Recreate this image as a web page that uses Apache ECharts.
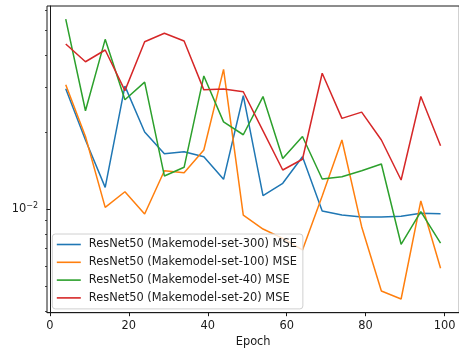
<!DOCTYPE html>
<html>
<head>
<meta charset="utf-8">
<script src="https://cdn.jsdelivr.net/npm/echarts@6/dist/echarts.min.js"></script>
<style>
  html, body { margin: 0; padding: 0; background: #fff; }
  #chart { width: 459px; height: 353px; }
</style>
</head>
<body>
<div id="chart"></div>
<script>
// Validation MSE per epoch for each training-set size
const epochs = [4, 9, 14, 19, 24, 29, 34, 39, 44, 49, 54, 59, 64, 69, 74, 79, 84, 89, 94, 99];

const mseSet300 = [0.0295, 0.0186, 0.01215, 0.0302, 0.0200, 0.01644, 0.01674, 0.0160, 0.01306, 0.0277,
                   0.01127, 0.0126, 0.0160, 0.00982, 0.00947, 0.00931, 0.00931, 0.00936, 0.00962, 0.00959];
const mseSet100 = [0.0306, 0.0192, 0.01015, 0.01168, 0.00956, 0.01411, 0.01386, 0.0170, 0.0351, 0.00947,
                   0.00835, 0.00768, 0.00692, 0.01124, 0.0186, 0.00853, 0.00478, 0.00445, 0.01075, 0.00587];
const mseSet40  = [0.0552, 0.0242, 0.0460, 0.0267, 0.0313, 0.01346, 0.01455, 0.0331, 0.0219, 0.0195,
                   0.0275, 0.01575, 0.0192, 0.0131, 0.01337, 0.01411, 0.01499, 0.00728, 0.00976, 0.00735];
const mseSet20  = [0.0441, 0.0376, 0.0418, 0.0290, 0.0450, 0.0486, 0.0453, 0.0292, 0.0294, 0.0287,
                   0.0202, 0.0142, 0.01564, 0.0339, 0.0226, 0.0239, 0.0186, 0.01298, 0.0275, 0.01767];

const seriesNames = [
  'ResNet50 (Makemodel-set-300) MSE',
  'ResNet50 (Makemodel-set-100) MSE',
  'ResNet50 (Makemodel-set-40) MSE',
  'ResNet50 (Makemodel-set-20) MSE'
];
const seriesValues = [mseSet300, mseSet100, mseSet40, mseSet20];
const seriesColors = ['#1f77b4', '#ff7f0e', '#2ca02c', '#d62728'];

const xTicks = [0, 20, 40, 60, 80, 100];
const yMajorTicks = [0.01];
const yMinorTicks = [0.004, 0.005, 0.006, 0.007, 0.008, 0.009, 0.02, 0.03, 0.04, 0.05, 0.06];

const FONT = 'DejaVu Sans';
const FONT_SIZE = 11.4;
const INK = '#1a1a1a';
const Y_MIN = 0.003934, Y_MAX = 0.06209;

const chart = echarts.init(document.getElementById('chart'), null, { renderer: 'canvas' });

const series = seriesNames.map((name, i) => ({
  name: name,
  type: 'line',
  yAxisIndex: 0,
  data: epochs.map((e, k) => [e, seriesValues[i][k]]),
  showSymbol: false,
  symbol: 'none',
  lineStyle: { width: 1.5, color: seriesColors[i] },
  itemStyle: { color: seriesColors[i] },
  animation: false
}));

chart.setOption({
  animation: false,
  backgroundColor: '#fff',
  grid: {
    left: 47, top: 6, width: 412.3, height: 306.7,
    show: true, borderColor: INK, borderWidth: 1,
    containLabel: false, outerBoundsMode: 'none'
  },
  legend: {
    orient: 'vertical',
    left: 52.3, top: 234,
    padding: [4.5, 6, 5, 4.5],
    itemGap: 5.8,
    itemWidth: 24, itemHeight: 1.6,
    icon: 'rect',
    backgroundColor: 'rgba(255,255,255,0.8)',
    borderColor: '#d0d0d0', borderWidth: 1, borderRadius: 3,
    textStyle: { fontFamily: FONT, fontSize: FONT_SIZE, color: INK, lineHeight: 12, padding: [0, 0, 0, 3] },
    data: seriesNames
  },
  xAxis: {
    type: 'value',
    min: -0.75, max: 103.75,
    name: 'Epoch', nameLocation: 'middle', nameGap: 24,
    nameTextStyle: { fontFamily: FONT, fontSize: FONT_SIZE, color: INK },
    axisLine: { show: true, onZero: false, lineStyle: { color: INK, width: 1 } },
    axisTick: { show: true, length: 3.5, lineStyle: { color: INK, width: 1 }, customValues: xTicks },
    axisLabel: { show: true, margin: 8, fontFamily: FONT, fontSize: FONT_SIZE, color: INK, customValues: xTicks,
                 showMinLabel: true, showMaxLabel: true },
    splitLine: { show: false }
  },
  yAxis: [
    {
      type: 'log', logBase: 10,
      min: Y_MIN, max: Y_MAX,
      position: 'left',
      axisLine: { show: true, lineStyle: { color: INK, width: 1 } },
      axisTick: { show: true, length: 3.5, lineStyle: { color: INK, width: 1 }, customValues: yMajorTicks },
      axisLabel: {
        show: true, margin: 9, customValues: yMajorTicks,
        formatter: () => '{b|10}{s|\u22122}',
        rich: {
          b: { fontFamily: FONT, fontSize: FONT_SIZE, color: INK },
          s: { fontFamily: FONT, fontSize: 8, color: INK, padding: [0, 0, 6, 0] }
        }
      },
      splitLine: { show: false },
      minorTick: { show: false }
    },
    {
      type: 'log', logBase: 10,
      min: Y_MIN, max: Y_MAX,
      position: 'left',
      axisLine: { show: false },
      axisTick: { show: true, length: 2, lineStyle: { color: INK, width: 0.8 }, customValues: yMinorTicks },
      axisLabel: { show: false },
      splitLine: { show: false }
    }
  ],
  series: series
});
</script>
</body>
</html>
